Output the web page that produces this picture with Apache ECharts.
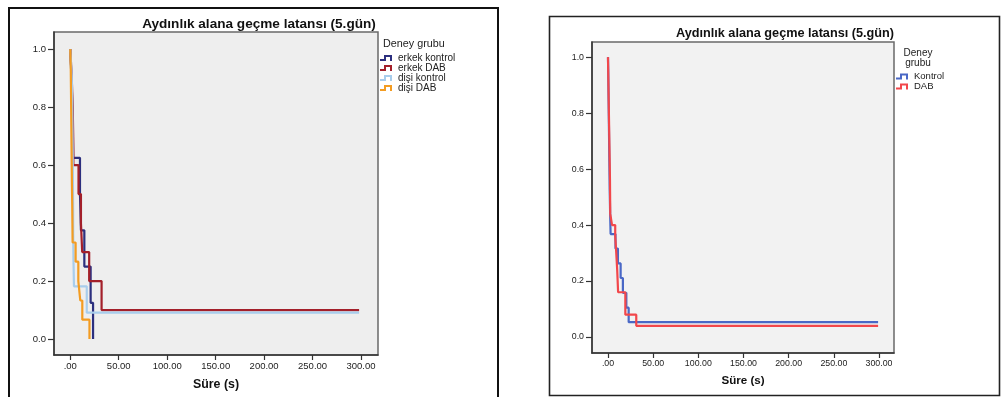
<!DOCTYPE html>
<html>
<head>
<meta charset="utf-8">
<script src="https://cdn.jsdelivr.net/npm/echarts@6/dist/echarts.min.js"></script>
<style>
  html, body { margin: 0; padding: 0; background: #ffffff; }
  #chart { width: 1001px; height: 397px; }
</style>
</head>
<body>
<div id="chart"></div>
<script>
// Kaplan–Meier survival curves: latency to enter the light area, day 5.
const chartTitle = 'Aydınlık alana geçme latansı (5.gün)';
const xAxisName = 'Süre (s)';
const legendTitleLeft = 'Deney grubu';
const legendTitleRight = 'Deney\ngrubu';

const xTicks = [0, 50, 100, 150, 200, 250, 300];
const xTickLabels = ['.00', '50.00', '100.00', '150.00', '200.00', '250.00', '300.00'];
const yTicks = [0, 0.2, 0.4, 0.6, 0.8, 1.0];
const yTickLabels = ['0.0', '0.2', '0.4', '0.6', '0.8', '1.0'];

// Left panel: sex x treatment groups
const erkekKontrolTime = [0, 1.5, 2.5, 3.0, 10.0, 11.0, 14.5, 21.0, 23.5];
const erkekKontrolSurv = [1, 0.875, 0.75, 0.625, 0.5, 0.375, 0.25, 0.125, 0];

const erkekDabTime = [0, 1.5, 2.5, 3.0, 3.2, 8.5, 11.0, 12.3, 19.5, 32.3, 298];
const erkekDabSurv = [1, 0.9, 0.8, 0.7, 0.6, 0.5, 0.4, 0.3, 0.2, 0.1, 0.1];

const disiKontrolTime = [0, 1.5, 2.0, 2.3, 2.5, 2.7, 2.9, 3.0, 3.3, 3.8, 17.0, 298];
const disiKontrolSurv = [1, 0.909, 0.818, 0.727, 0.636, 0.545, 0.455, 0.364, 0.273, 0.182, 0.091, 0.091];

const disiDabTime = [0, 0.5, 0.7, 0.9, 1.1, 1.3, 1.5, 1.7, 2.0, 2.2, 2.4, 5.5, 8.3, 10.3, 12.4, 19.8];
const disiDabSurv = [1, 0.933, 0.867, 0.8, 0.733, 0.667, 0.6, 0.533, 0.467, 0.4, 0.333, 0.267, 0.2, 0.133, 0.067, 0];

// Right panel: treatment groups pooled
const kontrolTime = [0, 0.3, 0.5, 0.7, 0.9, 1.1, 1.3, 1.5, 1.7, 1.9, 2.2, 2.5, 2.9, 8.3, 11.0, 14.0, 16.5, 20.3, 22.9, 299];
const kontrolSurv = [1, 0.947, 0.895, 0.842, 0.789, 0.737, 0.684, 0.632, 0.579, 0.526, 0.474, 0.421, 0.368, 0.316, 0.263, 0.211, 0.158, 0.105, 0.053, 0.053];

const dabTime = [0, 0.2, 0.4, 0.6, 0.8, 1.0, 1.2, 1.4, 1.6, 1.8, 2.0, 2.2, 2.3, 2.4, 2.5, 4.5, 8.0, 8.8, 9.5, 10.2, 11.2, 19.2, 31.3, 299];
const dabSurv = [1, 0.96, 0.92, 0.88, 0.84, 0.80, 0.76, 0.72, 0.68, 0.64, 0.60, 0.56, 0.52, 0.48, 0.44, 0.40, 0.36, 0.32, 0.28, 0.24, 0.16, 0.08, 0.04, 0.04];

const FONT = '"Liberation Sans", Arial, sans-serif';
const stepIcon = 'path://M0,4 L4,4 L4,0 L12,0 L12,6 L10,6 L10,2 L6,2 L6,6 L0,6 Z';

function pairs(ts, ss) { return ts.map((t, i) => [t, ss[i]]); }
function xLabel(v) { const i = xTicks.indexOf(v); return i >= 0 ? xTickLabels[i] : ''; }
function yLabel(v) {
  let best = 0;
  yTicks.forEach((t, i) => { if (Math.abs(t - v) < Math.abs(yTicks[best] - v)) best = i; });
  return yTickLabels[best];
}

function kmSeries(name, ts, ss, color, axisIdx) {
  return {
    name: name, type: 'line', step: 'end', symbol: 'none',
    xAxisIndex: axisIdx, yAxisIndex: axisIdx,
    data: pairs(ts, ss),
    lineStyle: { color: color, width: 2.2 },
    itemStyle: { color: color },
    emphasis: { disabled: true },
    animation: false
  };
}

function xAx(gridIndex, min, max, fs, gap, nameFs) {
  return {
    type: 'value', gridIndex: gridIndex, min: min, max: max,
    name: xAxisName, nameLocation: 'middle', nameGap: gap,
    nameTextStyle: { fontFamily: FONT, fontWeight: 'bold', fontSize: nameFs, color: '#111' },
    axisLine: { show: true, onZero: false, lineStyle: { color: '#333', width: 1.5 } },
    axisTick: { show: true, inside: false, length: 5, customValues: xTicks, lineStyle: { color: '#333', width: 1.2 } },
    axisLabel: { customValues: xTicks, formatter: xLabel, fontFamily: FONT, fontSize: fs, color: '#222', margin: 6 },
    splitLine: { show: false }
  };
}
function yAx(gridIndex, min, max, fs) {
  return {
    type: 'value', gridIndex: gridIndex, min: min, max: max,
    axisLine: { show: true, onZero: false, lineStyle: { color: '#333', width: 1.5 } },
    axisTick: { show: true, inside: false, length: 6, customValues: yTicks, lineStyle: { color: '#333', width: 1.2 } },
    axisLabel: { customValues: yTicks, formatter: yLabel, fontFamily: FONT, fontSize: fs, color: '#222', margin: 8 },
    splitLine: { show: false }
  };
}

const chart = echarts.init(document.getElementById('chart'), null, { renderer: 'canvas' });
chart.setOption({
  backgroundColor: '#ffffff',
  animation: false,
  title: [
    { text: chartTitle, left: 254, top: 12, textAlign: 'center',
      textStyle: { fontFamily: FONT, fontWeight: 'bold', fontSize: 13.6, color: '#111' } },
    { text: chartTitle, left: 780, top: 22, textAlign: 'center',
      textStyle: { fontFamily: FONT, fontWeight: 'bold', fontSize: 12.7, color: '#111' } },
    { text: legendTitleLeft, left: 378, top: 33.5,
      textStyle: { fontFamily: FONT, fontWeight: 'normal', fontSize: 10.8, color: '#222' } },
    { text: legendTitleRight, left: 913, top: 42.5, textAlign: 'center',
      textStyle: { fontFamily: FONT, fontWeight: 'normal', fontSize: 10, lineHeight: 10.5, color: '#222', align: 'center' } }
  ],
  legend: [
    { orient: 'vertical', left: 375, top: 48, itemWidth: 14, itemHeight: 6, itemGap: 0,
      icon: stepIcon, selectedMode: false,
      data: ['erkek kontrol', 'erkek DAB', 'dişi kontrol', 'dişi DAB'],
      textStyle: { fontFamily: FONT, fontSize: 10, lineHeight: 9.7, color: '#222' } },
    { orient: 'vertical', left: 891, top: 66.5, itemWidth: 14, itemHeight: 6, itemGap: 0,
      icon: stepIcon, selectedMode: false,
      data: ['Kontrol', 'DAB'],
      textStyle: { fontFamily: FONT, fontSize: 9.5, lineHeight: 9.3, color: '#222' } }
  ],
  grid: [
    { left: 54, top: 32, width: 324, height: 323, show: true,
      backgroundColor: '#eeeeee', borderColor: '#6a6a6a', borderWidth: 1.5 },
    { left: 592, top: 42, width: 302, height: 311, show: true,
      backgroundColor: '#f2f2f2', borderColor: '#6a6a6a', borderWidth: 1.5 }
  ],
  xAxis: [
    xAx(0, -16.8, 317.5, 9.5, 24, 12.4),
    xAx(1, -17.7, 316.6, 8.8, 22, 11.6)
  ],
  yAxis: [
    yAx(0, -0.055, 1.059, 9.5),
    yAx(1, -0.057, 1.054, 8.8)
  ],
  graphic: [
    { type: 'rect', shape: { x: 9, y: 8, width: 489, height: 400 },
      style: { fill: 'none', stroke: '#111', lineWidth: 2 }, silent: true },
    { type: 'rect', shape: { x: 549.5, y: 16.5, width: 450, height: 379 },
      style: { fill: 'none', stroke: '#222', lineWidth: 1.6 }, silent: true }
  ],
  series: [
    kmSeries('erkek kontrol', erkekKontrolTime, erkekKontrolSurv, '#2c2f7e', 0),
    kmSeries('erkek DAB', erkekDabTime, erkekDabSurv, '#a31f2a', 0),
    kmSeries('dişi kontrol', disiKontrolTime, disiKontrolSurv, '#a8cdec', 0),
    kmSeries('dişi DAB', disiDabTime, disiDabSurv, '#f39c22', 0),
    kmSeries('Kontrol', kontrolTime, kontrolSurv, '#4a68c6', 1),
    kmSeries('DAB', dabTime, dabSurv, '#f2474b', 1)
  ]
});
</script>
</body>
</html>
